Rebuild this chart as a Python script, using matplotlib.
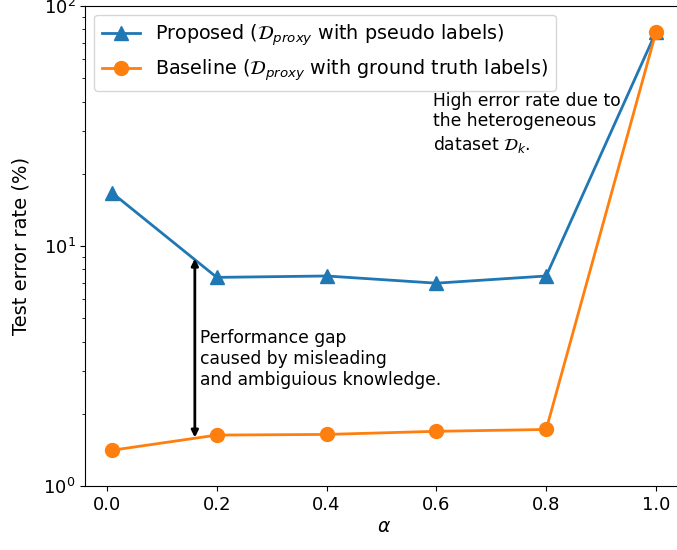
import matplotlib
matplotlib.use("Agg")
import matplotlib.pyplot as plt

alpha = [0.01, 0.2, 0.4, 0.6, 0.8, 1.0]
proposed = [16.6, 7.4, 7.5, 7.0, 7.5, 78]
baseline = [1.41, 1.63, 1.64, 1.69, 1.72, 78]

fig = plt.figure(figsize=(6.77, 5.5), dpi=100)
ax = fig.add_axes([85.3 / 677, 64 / 550, (683.2 - 85.3) / 677, 480 / 550])

ax.plot(alpha, proposed, marker='^', markersize=10, color='tab:blue', linewidth=2,
        label=r'Proposed ($\mathcal{D}_{proxy}$ with pseudo labels)')
ax.plot(alpha, baseline, marker='o', markersize=10, color='tab:orange', linewidth=2,
        label=r'Baseline ($\mathcal{D}_{proxy}$ with ground truth labels)')

ax.set_yscale('log')
ax.set_ylim(1, 100)
ax.set_xlabel(r'$\alpha$', fontsize=13.5, labelpad=2)
ax.set_ylabel('Test error rate (%)', fontsize=14, labelpad=9)
ax.tick_params(labelsize=13)

ax.annotate('', xy=(0.16, 1.55), xytext=(0.16, 9.1),
            arrowprops=dict(arrowstyle='<|-|>', color='black', lw=2, mutation_scale=10))
ax.text(0.17, 4.5, 'Performance gap\ncaused by misleading\nand ambiguious knowledge.',
        fontsize=12.3, va='top', ha='left')
ax.text(0.594, 44, 'High error rate due to\nthe heterogeneous\ndataset $\\mathcal{D}_k$.',
        fontsize=12.3, va='top', ha='left')

ax.legend(loc='upper left', fontsize=13.8, borderaxespad=0.45)
fig.savefig('out.png', dpi=100)
